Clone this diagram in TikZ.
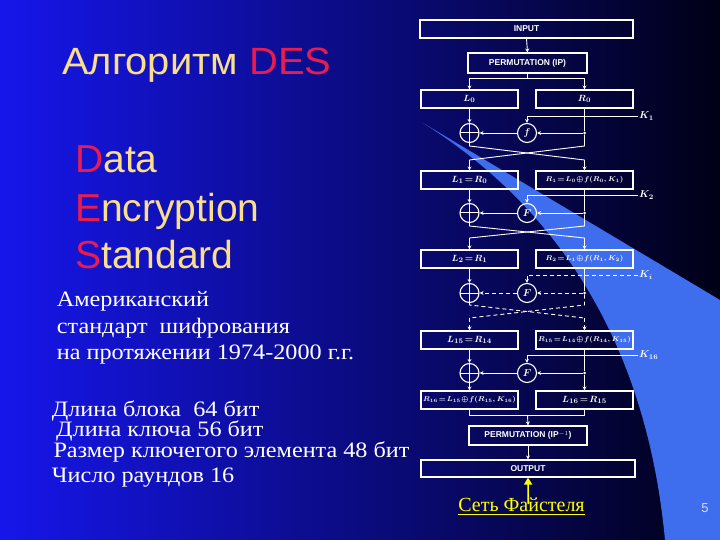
\documentclass[tikz,border=0pt]{standalone}
\usepackage{amsmath}
\usepackage{amssymb}
\usepackage{fontspec}
\setmainfont{Liberation Serif}
\newfontfamily\arialf{Liberation Sans}
\newfontfamily\titlef[FakeStretch=1.05]{Liberation Sans}
\newfontfamily\rusf[FakeStretch=1.1]{Liberation Serif}
\usetikzlibrary{arrows.meta}
\definecolor{bgleft}{RGB}{22,22,235}
\definecolor{bgmid}{RGB}{10,10,170}
\definecolor{bgright}{RGB}{0,0,22}
\definecolor{wedgeblue}{RGB}{62,110,238}
\definecolor{titlegold}{RGB}{250,222,140}
\definecolor{desred}{RGB}{232,28,78}
\definecolor{feistyellow}{RGB}{255,255,0}

\begin{document}
\begin{tikzpicture}[x=1pt,y=1pt,yscale=-1,
  box/.style={draw=white,line width=1.1pt,inner sep=0pt,minimum height=18pt,minimum width=97pt,text=white,font=\arialf\bfseries\fontsize{8.5}{9}\selectfont},
  mbox/.style={box,font=\fontsize{9.5}{10}\selectfont\boldmath},
  lbox/.style={box,font=\fontsize{7.5}{8}\selectfont\boldmath},
  circ/.style={circle,draw=white,line width=1.1pt,inner sep=0pt,minimum size=19pt,text=white,font=\fontsize{10}{10}\selectfont\boldmath},
  xorc/.style={circ,path picture={\draw[white,line width=1pt] (path picture bounding box.north) -- (path picture bounding box.south) (path picture bounding box.west) -- (path picture bounding box.east);}},
  dot/.style={circle,fill=white,inner sep=0pt,minimum size=3pt},
  wire/.style={draw=white,line width=0.9pt},
  arr/.style={wire,-{Stealth[length=4pt,width=4pt]}},
  dsh/.style={dash pattern=on 4pt off 3pt},
  klab/.style={anchor=west,text=white,inner sep=1pt,font=\fontsize{10}{10}\selectfont\boldmath},
  ruline/.style={anchor=base west,inner sep=0pt,text=white,font=\rusf\fontsize{22}{22}\selectfont}]

%Background
\shade[left color=bgleft,middle color=bgmid,right color=bgright] (0,0) rectangle (720,540);
\useasboundingbox (0,0) rectangle (720,540);
%Shape: light wedge
\fill[wedgeblue] (423,123) -- (720,300) -- (720,540) -- (665,540) .. controls (650,380) and (585,225) .. (423,123) -- cycle;

% Title
\node[anchor=base west,inner sep=0pt,font=\titlef\fontsize{38}{38}\selectfont] (title) at (62,75) {\textcolor{titlegold}{Алгоритм} \textcolor{desred}{DES}};
\node[anchor=base west,inner sep=0pt,font=\arialf\fontsize{39}{39}\selectfont,text=titlegold] (wdata) at (75,173) {\textcolor{desred}{D}ata};
\node[anchor=base west,inner sep=0pt,font=\arialf\fontsize{39}{39}\selectfont,text=titlegold] (wenc) at (75,221.5) {\textcolor{desred}{E}ncryption};
\node[anchor=base west,inner sep=0pt,font=\arialf\fontsize{39}{39}\selectfont,text=titlegold] (wstd) at (75,268) {\textcolor{desred}{S}tandard};

% Text Node
\node[ruline] (am1) at (56.7,306.7) {Американский};
\node[ruline] (am2) at (56.7,333.3) {стандарт\ \ шифрования};
\node[ruline] (am3) at (56.7,359.3) {на протяжении 1974-2000 г.г.};
% Text Node
\node[ruline] (p1) at (51.7,416.7) {Длина блока\ \ 64 бит};
\node[ruline] (p2) at (56,436.5) {Длина ключа 56 бит};
\node[ruline] (p3) at (53.3,457.7) {Размер ключегого элемента 48 бит};
\node[ruline] (p4) at (51.7,482.7) {Число раундов 16};

%Shape: top boxes
\node[box,minimum width=213pt] (in) at (526.5,29) {INPUT};
\node[box,minimum width=119pt,minimum height=20pt] (ip) at (527.5,63) {PERMUTATION (IP)};
\coordinate (s0) at (527.5,78);
\draw[wire] (ip.south) -- (s0);

% round 1
\node[mbox] (l0) at (469.5,99) {$L_0$};
\node[mbox] (r0) at (584.5,99) {$R_0$};
\draw[arr] (in.south) -- (ip.north);
\draw[arr] (s0) -| (l0.north);
\draw[arr] (s0) -| (r0.north);
\node[xorc] (x0) at (469.5,133) {};
\node[circ] (f0) at (527,133) {$f$};
\node[dot] (d0) at (584.5,133) {};
\coordinate (k0) at (638,116);
\node[klab] (kl0) at (k0) {$K_1$};
\draw[arr] (l0.south) -- (x0.north);
\draw[wire] (r0.south) -- (d0);
\draw[arr] (d0) -- (f0.east);
\draw[arr] (f0.west) -- (x0.east);
\draw[arr] (k0) -| (f0.north);
\coordinate (c0a) at (469.5,146);
\coordinate (c0b) at (584.5,146);
\coordinate (c0c) at (469.5,160);
\coordinate (c0d) at (584.5,160);
\draw[wire] (x0.south) -- (c0a) -- (c0d);
\draw[wire] (d0) -- (c0b) -- (c0c);

% round 2
\node[mbox] (l1) at (469.5,180) {$L_1\!=\!R_0$};
\node[lbox] (r1) at (584.5,180) {$R_1\!=\!L_0\!\oplus\! f(R_0,K_1)$};
\draw[arr] (c0c) -- (l1.north);
\draw[arr] (c0d) -- (r1.north);
\node[xorc] (x1) at (469.5,213) {};
\node[circ] (f1) at (527,213) {$F$};
\node[dot] (d1) at (584.5,213) {};
\coordinate (k1) at (638,195);
\node[klab] (kl1) at (k1) {$K_2$};
\draw[arr] (l1.south) -- (x1.north);
\draw[wire] (r1.south) -- (d1);
\draw[arr] (d1) -- (f1.east);
\draw[arr] (f1.west) -- (x1.east);
\draw[arr] (k1) -| (f1.north);
\coordinate (c1a) at (469.5,226);
\coordinate (c1b) at (584.5,226);
\coordinate (c1c) at (469.5,238);
\coordinate (c1d) at (584.5,238);
\draw[wire] (x1.south) -- (c1a) -- (c1d);
\draw[wire] (d1) -- (c1b) -- (c1c);

% round i (dashed)
\node[mbox] (l2) at (469.5,259) {$L_2\!=\!R_1$};
\node[lbox] (r2) at (584.5,259) {$R_2\!=\!L_1\!\oplus\! f(R_1,K_2)$};
\draw[arr] (c1c) -- (l2.north);
\draw[arr] (c1d) -- (r2.north);
\node[xorc] (x2) at (469.5,293) {};
\node[circ] (f2) at (527,293) {$F$};
\node[dot] (d2) at (584.5,293) {};
\coordinate (k2) at (638,275);
\node[klab] (kl2) at (k2) {$K_i$};
\draw[arr] (l2.south) -- (x2.north);
\draw[wire] (r2.south) -- (d2);
\draw[arr,dsh] (d2) -- (f2.east);
\draw[arr,dsh] (f2.west) -- (x2.east);
\draw[arr,dsh] (k2) -| (f2.north);
\coordinate (c2a) at (469.5,305);
\coordinate (c2b) at (584.5,305);
\coordinate (c2c) at (469.5,318);
\coordinate (c2d) at (584.5,318);
\draw[wire,dsh] (x2.south) -- (c2a) -- (c2d);
\draw[wire,dsh] (d2) -- (c2b) -- (c2c);

% round 16
\node[mbox] (l3) at (469.5,340) {$L_{15}\!=\!R_{14}$};
\node[lbox] (r3) at (584.5,340) {$R_{15}\!=\!L_{14}\!\oplus\! f(R_{14},K_{15})$};
\draw[arr,dsh] (c2c) -- (l3.north);
\draw[arr,dsh] (c2d) -- (r3.north);
\node[xorc] (x3) at (469.5,373) {};
\node[circ] (f3) at (527,373) {$F$};
\node[dot] (d3) at (584.5,373) {};
\coordinate (k3) at (638,355);
\node[klab] (kl3) at (k3) {$K_{16}$};
\draw[arr] (l3.south) -- (x3.north);
\draw[wire] (r3.south) -- (d3);
\draw[arr] (d3) -- (f3.east);
\draw[arr] (f3.west) -- (x3.east);
\draw[arr] (k3) -| (f3.north);

% output part
\node[lbox] (l4) at (469.5,400) {$R_{16}\!=\!L_{15}\!\oplus\! f(R_{15},K_{16})$};
\node[mbox] (r4) at (584.5,400) {$L_{16}\!=\!R_{15}$};
\draw[arr] (x3.south) -- (l4.north);
\draw[arr] (d3) -- (r4.north);
\coordinate (j) at (527.5,415);
\draw[wire] (l4.south) |- (j);
\draw[wire] (r4.south) |- (j);
\node[box,minimum width=118pt,minimum height=19pt] (ipi) at (528,435.5) {PERMUTATION (IP$^{-1}$)};
\node[box,minimum width=214pt,minimum height=17pt] (out) at (528,468.5) {OUTPUT};
\draw[arr] (j) -- (ipi.north);
\draw[arr] (ipi.south) -- (out.north);

% Feistel label
\node[anchor=base,inner sep=0pt,text=feistyellow,font=\fontsize{20}{20}\selectfont] (fs) at (521.5,511.5) {\underline{Сеть Файстеля}};
\coordinate (ya) at (528.3,504);
\draw[feistyellow,line width=1.6pt,-{Triangle[length=7pt,width=8pt]}] (ya) -- (out.south);

% page number
\node[anchor=base,inner sep=0pt,text=white!85!blue,font=\arialf\fontsize{13}{13}\selectfont] (pg) at (705,512) {5};

\end{tikzpicture}
\end{document}
